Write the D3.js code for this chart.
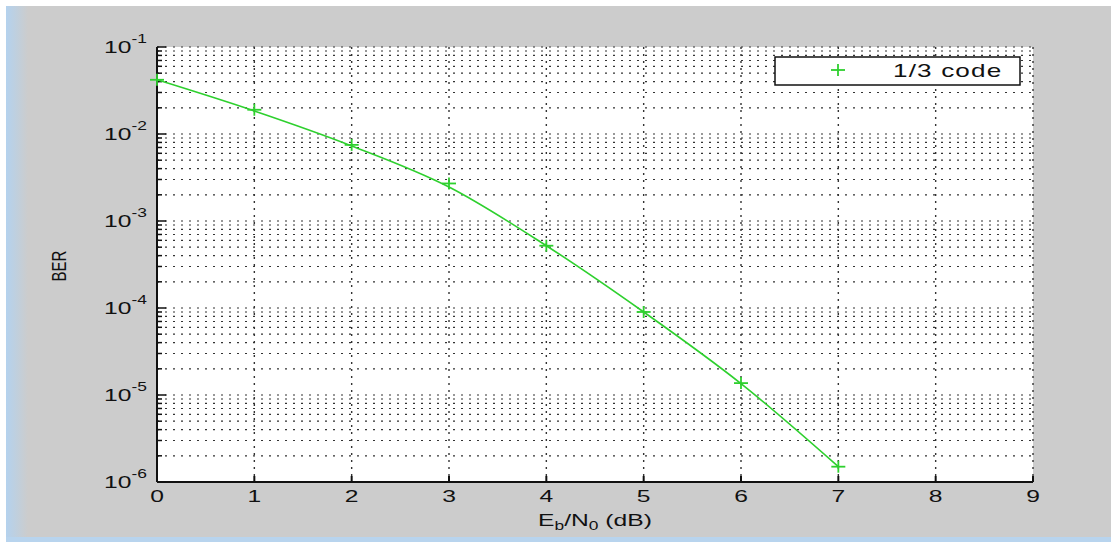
<!DOCTYPE html>
<html>
<head>
<meta charset="utf-8">
<script src="https://cdn.jsdelivr.net/npm/d3@7"></script>
<style>
  body { margin: 0; background: #fff; }
  text { font-family: "Liberation Sans", Arial, sans-serif; fill: #111; }
</style>
</head>
<body>
<div id="chart"></div>
<script>
// data
var ebno = [0, 1, 2, 3, 4, 5, 6, 7];
var ber = [4.2e-2, 1.9e-2, 7.5e-3, 2.7e-3, 5.2e-4, 9.0e-5, 1.37e-5, 1.5e-6];
// the drawn line is a smoothed fit, a bit off the markers
var fitBer = [4.2e-2, 1.84e-2, 7.3e-3, 2.46e-3, 5.2e-4, 9.0e-5, 1.35e-5, 1.5e-6];
var xTicks = [0, 1, 2, 3, 4, 5, 6, 7, 8, 9];
var yDecades = [-6, -5, -4, -3, -2, -1];
var legendLabel = "1/3 code";

var W = 1111, H = 542;
var sx = 1.45; // picture is stretched sideways

var svg = d3.select("#chart").append("svg")
    .attr("width", W)
    .attr("height", H);

// figure background
var defs = svg.append("defs");
var grad = defs.append("linearGradient").attr("id", "edge");
grad.append("stop").attr("offset", "0%").attr("stop-color", "#b4d2ee");
grad.append("stop").attr("offset", "100%").attr("stop-color", "#cccccc");

svg.append("rect").attr("x", 6).attr("y", 6).attr("width", W - 6).attr("height", H - 6).attr("fill", "#cccccc");
svg.append("rect").attr("x", 6).attr("y", 6).attr("width", 22).attr("height", H - 6).attr("fill", "url(#edge)");
svg.append("rect").attr("x", 6).attr("y", 537).attr("width", W - 6).attr("height", 5).attr("fill", "#b8d4ee");

var x = d3.scaleLinear().domain([0, 9]).range([157, 1033]);
var y = d3.scaleLog().domain([1e-6, 1e-1]).range([482, 47]);

// axes area
svg.append("rect")
    .attr("x", x(0)).attr("y", y(1e-1))
    .attr("width", x(9) - x(0)).attr("height", y(1e-6) - y(1e-1))
    .attr("fill", "#fff");

// grid values (log minor lines)
var gridVals = [];
yDecades.forEach(function(e) {
    for (var m = 1; m < 10; m++) {
        var v = m * Math.pow(10, e);
        if (v <= 1e-1 * 1.0001) gridVals.push(v);
    }
});

svg.append("g").selectAll("line")
    .data(gridVals.filter(function(v) { return v > 1.0001e-6; }))
    .enter().append("line")
    .attr("x1", x(0)).attr("x2", x(9))
    .attr("y1", function(d) { return y(d); })
    .attr("y2", function(d) { return y(d); })
    .attr("stroke", "#333")
    .attr("stroke-width", 1.2)
    .attr("stroke-dasharray", "2,6");

svg.append("g").selectAll("line")
    .data(xTicks.slice(1))
    .enter().append("line")
    .attr("x1", function(d) { return x(d); })
    .attr("x2", function(d) { return x(d); })
    .attr("y1", y(1e-1)).attr("y2", y(1e-6))
    .attr("stroke", "#333")
    .attr("stroke-width", 1.4)
    .attr("stroke-dasharray", "2,5");

// axes lines and inward ticks
svg.append("line").attr("x1", x(0)).attr("x2", x(0)).attr("y1", y(1e-1)).attr("y2", y(1e-6))
    .attr("stroke", "#111").attr("stroke-width", 2);
svg.append("line").attr("x1", x(0)).attr("x2", x(9)).attr("y1", y(1e-6)).attr("y2", y(1e-6))
    .attr("stroke", "#111").attr("stroke-width", 2);

svg.append("g").selectAll("line")
    .data(gridVals)
    .enter().append("line")
    .attr("x1", x(0))
    .attr("x2", function(d) {
        var e = Math.log10(d);
        return x(0) + (Math.abs(e - Math.round(e)) < 1e-6 ? 9 : 5);
    })
    .attr("y1", function(d) { return y(d); })
    .attr("y2", function(d) { return y(d); })
    .attr("stroke", "#111").attr("stroke-width", 1.5);

svg.append("g").selectAll("line")
    .data(xTicks)
    .enter().append("line")
    .attr("x1", function(d) { return x(d); })
    .attr("x2", function(d) { return x(d); })
    .attr("y1", y(1e-6)).attr("y2", y(1e-6) - 6)
    .attr("stroke", "#111").attr("stroke-width", 2);

// tick labels, stretched sideways
function stretched(px, py, anchor) {
    return svg.append("g")
        .attr("transform", "translate(" + px + "," + py + ") scale(" + sx + ",1)")
        .append("text")
        .attr("text-anchor", anchor)
        .style("font-size", "17px");
}

xTicks.forEach(function(d) {
    stretched(x(d), y(1e-6) + 20, "middle").text(d);
});

yDecades.forEach(function(e) {
    var t = stretched(147, y(Math.pow(10, e)) + 6, "end");
    t.append("tspan").text("10");
    t.append("tspan").attr("dy", -10).style("font-size", "12px").text(e);
});

// axis titles
var xl = stretched(595, 526, "middle");
xl.append("tspan").text("E");
xl.append("tspan").attr("dy", 4).style("font-size", "12px").text("b");
xl.append("tspan").attr("dy", -4).text("/N");
xl.append("tspan").attr("dy", 4).style("font-size", "12px").text("0");
xl.append("tspan").attr("dy", -4).text(" (dB)");

svg.append("g")
    .attr("transform", "translate(66,266) rotate(-90) scale(1,1.3)")
    .append("text")
    .attr("text-anchor", "middle")
    .style("font-size", "15px")
    .text("BER");

// curve
var green = "#2ed02e";
var line = d3.line()
    .x(function(d, i) { return x(ebno[i]); })
    .y(function(d) { return y(d); })
    .curve(d3.curveMonotoneX);

svg.append("path")
    .datum(fitBer)
    .attr("d", line)
    .attr("fill", "none")
    .attr("stroke", green)
    .attr("stroke-width", 1.6);

function drawPlus(g, cx, cy) {
    g.append("line").attr("x1", cx - 7).attr("x2", cx + 7).attr("y1", cy).attr("y2", cy)
        .attr("stroke", green).attr("stroke-width", 1.8);
    g.append("line").attr("x1", cx).attr("x2", cx).attr("y1", cy - 6).attr("y2", cy + 6)
        .attr("stroke", green).attr("stroke-width", 1.8);
}
var marks = svg.append("g");
ber.forEach(function(d, i) { drawPlus(marks, x(ebno[i]), y(d)); });

// legend
svg.append("rect")
    .attr("x", 775).attr("y", 57).attr("width", 245).attr("height", 28)
    .attr("fill", "#fff").attr("stroke", "#111").attr("stroke-width", 1.5);
drawPlus(svg.append("g"), 838, 70);
stretched(893, 77, "start").style("font-size", "18px").style("letter-spacing", "0.8px").text(legendLabel);
</script>
</body>
</html>
